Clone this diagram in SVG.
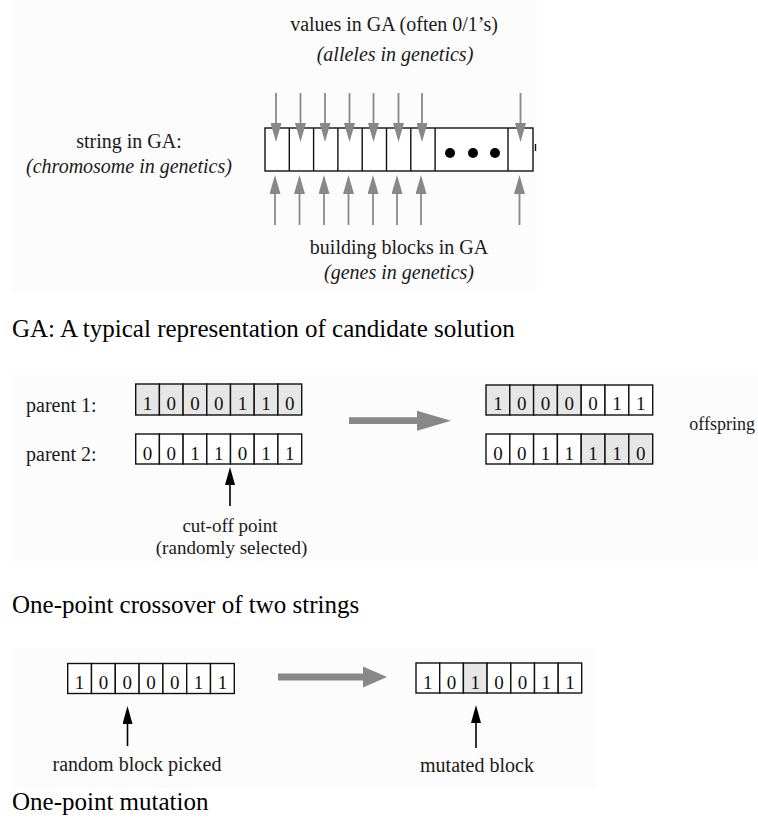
<svg xmlns="http://www.w3.org/2000/svg" width="758" height="818" viewBox="0 0 758 818">
  <style>
    .panel { fill: #fcfcfc; stroke: none; }
    .lbl { font-family: "Liberation Serif", "Times New Roman", serif; font-size: 20px; fill: #1a1a1a; }
    .sm { font-size: 19px; }
    .xs { font-size: 18px; }
    .it { font-style: italic; }
    .mid { text-anchor: middle; }
    .cap { font-family: "Liberation Serif", "Times New Roman", serif; font-size: 25px; fill: #000; }
    .cell { fill: #fff; stroke: #111; stroke-width: 1.4; }
    .hl { fill: #e6e6e6; }
    .d { font-family: "Liberation Serif", "Times New Roman", serif; font-size: 19px; fill: #111; text-anchor: middle; }
    .ga { stroke: #888; stroke-width: 1.8; fill: none; marker-end: url(#grayHead); }
    .ka { stroke: #000; stroke-width: 1.6; fill: none; marker-end: url(#blackHead); }
    .big { fill: #888; stroke: none; }
  </style>
  <defs>
    <marker id="grayHead" viewBox="0 -5.5 19 11" refX="0" refY="0" markerWidth="19" markerHeight="11" markerUnits="userSpaceOnUse" orient="auto">
      <path d="M0,-5.5 L19,0 L0,5.5 Z" fill="#888"/>
    </marker>
    <marker id="blackHead" viewBox="0 -5 18 10" refX="0" refY="0" markerWidth="18" markerHeight="10" markerUnits="userSpaceOnUse" orient="auto">
      <path d="M0,-5 L18,0 L0,5 Z" fill="#000"/>
    </marker>
  </defs>

  <rect width="758" height="818" fill="#fff"/>

  <!-- faint backing panels of the three figures -->
  <rect class="panel" x="10" y="0" width="527" height="292"/>
  <rect class="panel" x="10" y="375" width="748" height="186"/>
  <rect class="panel" x="12" y="648" width="586" height="140"/>

  <!-- ===== Representation of a candidate solution ===== -->
  <g id="chromosome">
    <rect class="cell" x="265" y="128" width="268" height="43"/>
    <g stroke="#111" stroke-width="1.4">
      <line x1="289.3" y1="128" x2="289.3" y2="171"/>
      <line x1="313.6" y1="128" x2="313.6" y2="171"/>
      <line x1="337.9" y1="128" x2="337.9" y2="171"/>
      <line x1="362.2" y1="128" x2="362.2" y2="171"/>
      <line x1="386.5" y1="128" x2="386.5" y2="171"/>
      <line x1="410.8" y1="128" x2="410.8" y2="171"/>
      <line x1="435.1" y1="128" x2="435.1" y2="171"/>
      <line x1="508" y1="128" x2="508" y2="171"/>
      <line x1="535.5" y1="144" x2="535.5" y2="151"/>
    </g>
    <circle cx="450" cy="153" r="5"/>
    <circle cx="473" cy="153" r="5"/>
    <circle cx="495" cy="153" r="5"/>
  </g>

  <g id="label-values">
    <text class="lbl mid" x="394" y="31">values in GA (often 0/1’s)</text>
    <text class="lbl it mid" x="395" y="61">(alleles in genetics)</text>
  </g>
  <g id="label-string">
    <text class="lbl mid" x="129" y="148">string in GA:</text>
    <text class="lbl it mid" x="129" y="173">(chromosome in genetics)</text>
  </g>
  <g id="label-blocks">
    <text class="lbl mid" x="399" y="254">building blocks in GA</text>
    <text class="lbl it mid" x="399" y="279">(genes in genetics)</text>
  </g>

  <g id="connectors-representation">
    <!-- values pointing down into each block -->
    <line class="ga" x1="276" y1="93" x2="276" y2="123"/>
    <line class="ga" x1="300.5" y1="93" x2="300.5" y2="123"/>
    <line class="ga" x1="325" y1="93" x2="325" y2="123"/>
    <line class="ga" x1="349.5" y1="93" x2="349.5" y2="123"/>
    <line class="ga" x1="373.5" y1="93" x2="373.5" y2="123"/>
    <line class="ga" x1="398.5" y1="93" x2="398.5" y2="123"/>
    <line class="ga" x1="422" y1="93" x2="422" y2="123"/>
    <line class="ga" x1="520.5" y1="93" x2="520.5" y2="123"/>
    <!-- building blocks pointing up -->
    <line class="ga" x1="275" y1="225" x2="275" y2="194"/>
    <line class="ga" x1="299.5" y1="225" x2="299.5" y2="194"/>
    <line class="ga" x1="324" y1="225" x2="324" y2="194"/>
    <line class="ga" x1="348.5" y1="225" x2="348.5" y2="194"/>
    <line class="ga" x1="373" y1="225" x2="373" y2="194"/>
    <line class="ga" x1="397" y1="225" x2="397" y2="194"/>
    <line class="ga" x1="421" y1="225" x2="421" y2="194"/>
    <line class="ga" x1="519.5" y1="225" x2="519.5" y2="194"/>
  </g>

  <text class="cap" x="12" y="337">GA: A typical representation of candidate solution</text>

  <!-- ===== One-point crossover ===== -->
  <g id="parent1">
    <text class="lbl" x="26" y="412">parent 1:</text>
    <rect class="cell hl" x="135.7" y="384" width="23.7" height="31"/>
    <rect class="cell hl" x="159.4" y="384" width="23.7" height="31"/>
    <rect class="cell hl" x="183.1" y="384" width="23.7" height="31"/>
    <rect class="cell hl" x="206.8" y="384" width="23.7" height="31"/>
    <rect class="cell hl" x="230.5" y="384" width="23.7" height="31"/>
    <rect class="cell hl" x="254.2" y="384" width="23.7" height="31"/>
    <rect class="cell hl" x="277.9" y="384" width="23.8" height="31"/>
    <text class="d" x="147.6" y="410">1</text>
    <text class="d" x="171.3" y="410">0</text>
    <text class="d" x="195" y="410">0</text>
    <text class="d" x="218.7" y="410">0</text>
    <text class="d" x="242.4" y="410">1</text>
    <text class="d" x="266.1" y="410">1</text>
    <text class="d" x="289.8" y="410">0</text>
  </g>

  <g id="parent2">
    <text class="lbl" x="26" y="461">parent 2:</text>
    <rect class="cell" x="135.7" y="434" width="23.7" height="30"/>
    <rect class="cell" x="159.4" y="434" width="23.7" height="30"/>
    <rect class="cell" x="183.1" y="434" width="23.7" height="30"/>
    <rect class="cell" x="206.8" y="434" width="23.7" height="30"/>
    <rect class="cell" x="230.5" y="434" width="23.7" height="30"/>
    <rect class="cell" x="254.2" y="434" width="23.7" height="30"/>
    <rect class="cell" x="277.9" y="434" width="23.8" height="30"/>
    <text class="d" x="147.6" y="460">0</text>
    <text class="d" x="171.3" y="460">0</text>
    <text class="d" x="195" y="460">1</text>
    <text class="d" x="218.7" y="460">1</text>
    <text class="d" x="242.4" y="460">0</text>
    <text class="d" x="266.1" y="460">1</text>
    <text class="d" x="289.8" y="460">1</text>
  </g>

  <g id="cutoff-label">
    <text class="lbl sm mid" x="230" y="532">cut-off point</text>
    <text class="lbl sm mid" x="231.5" y="554">(randomly selected)</text>
  </g>

  <g id="offspring1">
    <rect class="cell hl" x="486" y="385" width="23.8" height="30"/>
    <rect class="cell hl" x="509.8" y="385" width="23.8" height="30"/>
    <rect class="cell hl" x="533.6" y="385" width="23.8" height="30"/>
    <rect class="cell hl" x="557.4" y="385" width="23.8" height="30"/>
    <rect class="cell" x="581.2" y="385" width="23.8" height="30"/>
    <rect class="cell" x="605" y="385" width="23.8" height="30"/>
    <rect class="cell" x="628.8" y="385" width="23.9" height="30"/>
    <text class="d" x="497.9" y="410">1</text>
    <text class="d" x="521.7" y="410">0</text>
    <text class="d" x="545.5" y="410">0</text>
    <text class="d" x="569.3" y="410">0</text>
    <text class="d" x="593.1" y="410">0</text>
    <text class="d" x="616.9" y="410">1</text>
    <text class="d" x="640.7" y="410">1</text>
  </g>

  <g id="offspring2">
    <rect class="cell" x="486" y="434" width="23.8" height="30"/>
    <rect class="cell" x="509.8" y="434" width="23.8" height="30"/>
    <rect class="cell" x="533.6" y="434" width="23.8" height="30"/>
    <rect class="cell" x="557.4" y="434" width="23.8" height="30"/>
    <rect class="cell hl" x="581.2" y="434" width="23.8" height="30"/>
    <rect class="cell hl" x="605" y="434" width="23.8" height="30"/>
    <rect class="cell hl" x="628.8" y="434" width="23.9" height="30"/>
    <text class="d" x="497.9" y="460">0</text>
    <text class="d" x="521.7" y="460">0</text>
    <text class="d" x="545.5" y="460">1</text>
    <text class="d" x="569.3" y="460">1</text>
    <text class="d" x="593.1" y="460">1</text>
    <text class="d" x="616.9" y="460">1</text>
    <text class="d" x="640.7" y="460">0</text>
  </g>

  <g id="offspring-label">
    <text class="lbl xs" x="755" y="430" text-anchor="end">offspring</text>
  </g>

  <g id="connectors-crossover">
    <polygon class="big" points="349,417.3 417,417.3 417,410.7 451,420.7 417,430.7 417,424 349,424"/>
    <line class="ka" x1="230" y1="506" x2="230" y2="485"/>
  </g>

  <text class="cap" x="12" y="613">One-point crossover of two strings</text>

  <!-- ===== One-point mutation ===== -->
  <g id="before-mutation">
    <rect class="cell" x="67.7" y="663.5" width="23.8" height="30"/>
    <rect class="cell" x="91.5" y="663.5" width="23.8" height="30"/>
    <rect class="cell" x="115.3" y="663.5" width="23.8" height="30"/>
    <rect class="cell" x="139.1" y="663.5" width="23.8" height="30"/>
    <rect class="cell" x="162.9" y="663.5" width="23.8" height="30"/>
    <rect class="cell" x="186.7" y="663.5" width="23.8" height="30"/>
    <rect class="cell" x="210.5" y="663.5" width="23.8" height="30"/>
    <text class="d" x="79.6" y="689">1</text>
    <text class="d" x="103.4" y="689">0</text>
    <text class="d" x="127.2" y="689">0</text>
    <text class="d" x="151" y="689">0</text>
    <text class="d" x="174.8" y="689">0</text>
    <text class="d" x="198.6" y="689">1</text>
    <text class="d" x="222.4" y="689">1</text>
  </g>
  <g id="label-random">
    <text class="lbl mid" x="137" y="771">random block picked</text>
  </g>

  <g id="after-mutation">
    <rect class="cell" x="416" y="663" width="23.7" height="30"/>
    <rect class="cell" x="439.7" y="663" width="23.7" height="30"/>
    <rect class="cell hl" x="463.4" y="663" width="23.7" height="30"/>
    <rect class="cell" x="487.1" y="663" width="23.7" height="30"/>
    <rect class="cell" x="510.8" y="663" width="23.7" height="30"/>
    <rect class="cell" x="534.5" y="663" width="23.7" height="30"/>
    <rect class="cell" x="558.2" y="663" width="23.5" height="30"/>
    <text class="d" x="427.8" y="688.5">1</text>
    <text class="d" x="451.5" y="688.5">0</text>
    <text class="d" x="475.2" y="688.5">1</text>
    <text class="d" x="498.9" y="688.5">0</text>
    <text class="d" x="522.6" y="688.5">0</text>
    <text class="d" x="546.3" y="688.5">1</text>
    <text class="d" x="570" y="688.5">1</text>
  </g>
  <g id="label-mutated">
    <text class="lbl mid" x="477" y="772">mutated block</text>
  </g>

  <g id="connectors-mutation">
    <polygon class="big" points="278,673.5 363,673.5 363,666.5 387,677 363,687.5 363,680.5 278,680.5"/>
    <line class="ka" x1="127.5" y1="746" x2="127.5" y2="724"/>
    <line class="ka" x1="476" y1="748" x2="476" y2="723"/>
  </g>

  <text class="cap" x="12" y="810">One-point mutation</text>
</svg>
